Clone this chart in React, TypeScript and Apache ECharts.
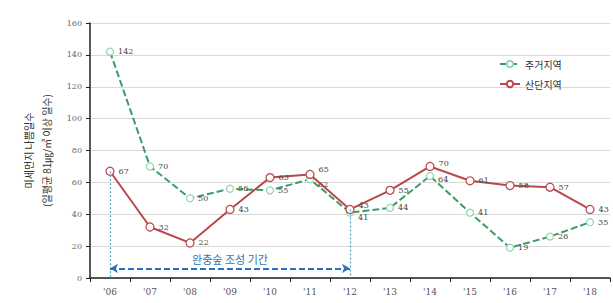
import React, { useEffect, useRef } from "react";
import * as echarts from "echarts";

const years = ["'06", "'07", "'08", "'09", "'10", "'11", "'12", "'13", "'14", "'15", "'16", "'17", "'18"];
const residential = [142, 70, 50, 56, 55, 62, 41, 44, 64, 41, 19, 26, 35];
const industrial = [67, 32, 22, 43, 63, 65, 43, 55, 70, 61, 58, 57, 43];
const seriesNames = ["주거지역", "산단지역"];
const yTitle = "미세먼지 나쁨일수\n(일평균 81㎍/㎥ 이상 일수)";
const periodLabel = "완충숲 조성 기간";
const periodStart = "'06";
const periodEnd = "'12";

const FONT = "'Noto Sans CJK KR', 'Noto Sans', sans-serif";
const NUMFONT = "'DejaVu Serif', serif";

// label nudges for crowded points (index -> offset)
const greenNudge: Record<number, number[]> = { 5: [0, 5], 6: [0, 5], 8: [0, 3] };
const redNudge: Record<number, number[]> = { 5: [0, -5], 6: [0, -4], 8: [0, -3] };

export default function App() {
  const ref = useRef<HTMLDivElement>(null);
  useEffect(() => {
    if (!ref.current) return;
    const chart = echarts.init(ref.current, null, { renderer: "svg" });
    const startIdx = years.indexOf(periodStart);
    const endIdx = years.indexOf(periodEnd);
    const withNudge = (vals: number[], nudge: Record<number, number[]>) =>
      vals.map((v, i) => (nudge[i] ? { value: v, label: { offset: nudge[i] } } : v));
    chart.setOption({
      animation: false,
      textStyle: { fontFamily: FONT },
      grid: { left: 90, right: 3, top: 23, bottom: 25 },
      legend: {
        orient: "vertical",
        left: 494,
        top: 54,
        itemGap: 10,
        itemWidth: 20,
        itemHeight: 8,
        textStyle: { fontSize: 10, color: "#333", fontFamily: FONT },
        data: seriesNames,
      },
      xAxis: {
        type: "category",
        data: years,
        boundaryGap: true,
        axisLine: { lineStyle: { color: "#222", width: 1.5 } },
        axisTick: { show: true, lineStyle: { color: "#222" }, length: 4 },
        axisLabel: { fontSize: 9, color: "#555", margin: 9, fontFamily: NUMFONT },
        splitLine: { show: false },
      },
      yAxis: {
        type: "value",
        min: 0,
        max: 160,
        interval: 20,
        name: yTitle,
        nameLocation: "middle",
        nameRotate: 90,
        nameGap: 32,
        nameTextStyle: { fontSize: 10, color: "#333", lineHeight: 18, fontFamily: FONT },
        axisLine: { show: true, lineStyle: { color: "#222", width: 1.5 } },
        axisTick: { show: true, lineStyle: { color: "#222" }, length: 4 },
        axisLabel: { fontSize: 8, color: "#666", margin: 8, fontFamily: NUMFONT },
        splitLine: { show: true, lineStyle: { color: "#d9d9d9", width: 1 } },
      },
      series: [
        {
          name: seriesNames[0],
          type: "line",
          data: withNudge(residential, greenNudge),
          symbol: "circle",
          symbolSize: 7,
          itemStyle: { color: "#ffffff", borderColor: "#8fd6b4", borderWidth: 1.2 },
          lineStyle: { color: "#3a9d68", width: 2, type: [7, 3] },
          label: { show: true, position: "right", distance: 4, fontSize: 8, color: "#444", fontFamily: NUMFONT },
          z: 3,
        },
        {
          name: seriesNames[1],
          type: "line",
          data: withNudge(industrial, redNudge),
          symbol: "circle",
          symbolSize: 8,
          itemStyle: { color: "#ffffff", borderColor: "#b9474c", borderWidth: 1.2 },
          lineStyle: { color: "#b9474c", width: 2 },
          label: { show: true, position: "right", distance: 4, fontSize: 8, color: "#444", fontFamily: NUMFONT },
          z: 4,
          markLine: {
            silent: true,
            symbol: "none",
            animation: false,
            label: { show: false },
            data: [
              [
                { coord: [startIdx, industrial[startIdx]], lineStyle: { color: "#4fa3c0", type: [2, 2], width: 1.2 } },
                { coord: [startIdx, 0] },
              ],
              [
                { coord: [endIdx, industrial[endIdx]], lineStyle: { color: "#4fa3c0", type: [2, 2], width: 1.2 } },
                { coord: [endIdx, 0] },
              ],
              [
                {
                  coord: [startIdx, 6],
                  symbol: "arrow",
                  symbolSize: [7, 8],
                  lineStyle: { color: "#2e6fbf", type: [6, 3], width: 2 },
                  label: {
                    show: true,
                    position: "middle",
                    formatter: periodLabel,
                    color: "#2e75b6",
                    fontSize: 11,
                    fontFamily: FONT,
                    distance: 4,
                  },
                },
                { coord: [endIdx, 6], symbol: "arrow", symbolSize: [7, 8] },
              ],
            ],
          },
        },
      ],
    });
    return () => chart.dispose();
  }, []);
  return (
    <div
      ref={ref}
      style={{ position: "fixed", left: 0, top: 0, width: 613, height: 303, background: "#fff" }}
    />
  );
}
